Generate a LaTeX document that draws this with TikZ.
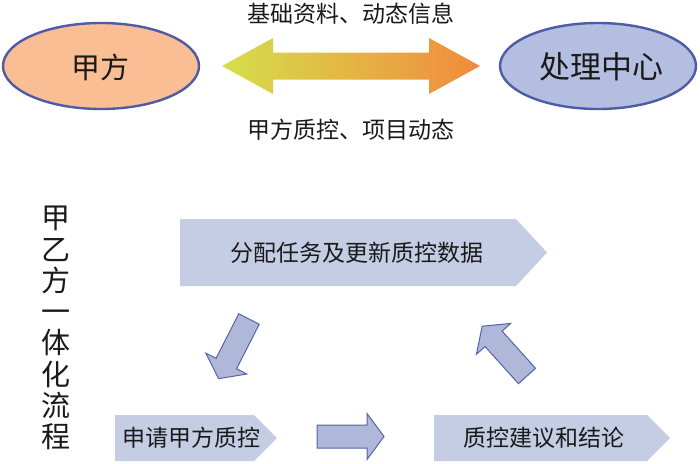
\documentclass[tikz,border=0pt]{standalone}
\usepackage{fontspec}
\setmainfont{Noto Sans CJK SC}
\newfontfamily\cjk{Noto Sans CJK SC}
\definecolor{peach}{HTML}{F9BE93}
\definecolor{lav}{HTML}{B4BEE0}
\definecolor{edgeblue}{HTML}{4E5BA6}
\definecolor{penta}{HTML}{C5CDE5}
\definecolor{arrfill}{HTML}{B0B8D9}
\definecolor{arredge}{HTML}{5563A8}
\definecolor{ygreen}{HTML}{D5DF4B}
\definecolor{gold}{HTML}{E8BC46}
\definecolor{orng}{HTML}{F28A3D}
\definecolor{txt}{HTML}{1A1A1A}
\newcommand{\flowarrow}[3]{%
  \begin{scope}[shift={(#1,#2)}, rotate=#3]
    \draw[flowarr] (0pt,-11.5pt) -- (50pt,-11.5pt) -- (50pt,-23pt) -- (67pt,0pt)
      -- (50pt,23pt) -- (50pt,11.5pt) -- (0pt,11.5pt) -- cycle;
  \end{scope}}
\begin{document}
\begin{tikzpicture}[x=1pt,y=-1pt,
  party/.style={draw=edgeblue, line width=2.4pt},
  flowarr/.style={fill=arrfill, draw=arredge, line width=1pt, line join=miter},
  pentabox/.style={fill=penta},
  lbl/.style={text=txt, inner sep=0pt, font=\fontsize{23}{26}\selectfont},
  big/.style={text=txt, inner sep=0pt}]
\useasboundingbox (0,0) rectangle (700,463);
\fill[white] (0,0) rectangle (700,463);
% ellipses
\draw[party, fill=peach] (101,66) ellipse [x radius=98, y radius=43];
\draw[party, fill=lav] (598,66) ellipse [x radius=98, y radius=43];
\node[big, font=\fontsize{29}{32}\selectfont] (a) at (100.5,67.5) {甲方};
\node[big, font=\fontsize{31}{34}\selectfont] (b) at (601.5,67) {处理中心};
% double arrow
\shade[left color=ygreen, middle color=gold, right color=orng]
  (222,66) -- (273,38) -- (273,52.5) -- (429,52.5) -- (429,38) -- (480,66)
  -- (429,94) -- (429,79.5) -- (273,79.5) -- (273,94) -- cycle;
\node[lbl] (t1) at (350.5,13.5) {基础资料、动态信息};
\node[lbl] (t2) at (350.5,130) {甲方质控、项目动态};
% vertical title
\node[big, align=center, font=\fontsize{29}{31.25}\selectfont] (v) at (55.5,328)
  {甲\\乙\\方\\一\\体\\化\\流\\程};
% pentagons
\path[pentabox] (180,219) -- (516,219) -- (547,252.5) -- (516,286) -- (180,286) -- cycle;
\path[pentabox] (115,415) -- (254,415) -- (277,438) -- (254,461) -- (115,461) -- cycle;
\path[pentabox] (434,415) -- (647,415) -- (670,438) -- (647,461) -- (434,461) -- cycle;
\node[lbl] (p1) at (357,253) {分配任务及更新质控数据};
\node[lbl] (p2) at (191,438) {申请甲方质控};
\node[lbl] (p3) at (544,438) {质控建议和结论};
% flow arrows
\flowarrow{249}{319}{243}
\flowarrow{317}{436.5}{0}
\flowarrow{527}{376}{132}
\end{tikzpicture}
\end{document}
